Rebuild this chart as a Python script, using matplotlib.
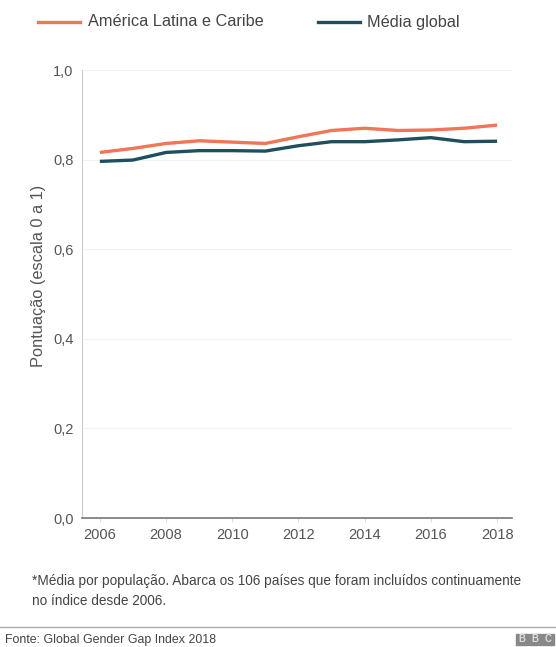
import matplotlib; matplotlib.use("Agg"); import matplotlib.pyplot as plt
from matplotlib.patches import Rectangle

plt.rcParams['font.family'] = ['Liberation Sans', 'DejaVu Sans']

years = list(range(2006, 2019))
latam = [0.816, 0.825, 0.836, 0.842, 0.839, 0.836, 0.851, 0.865, 0.870, 0.865, 0.866, 0.870, 0.877]
globl = [0.796, 0.799, 0.816, 0.820, 0.820, 0.819, 0.831, 0.840, 0.840, 0.844, 0.849, 0.840, 0.841]
yticks = [0.0, 0.2, 0.4, 0.6, 0.8, 1.0]
xticks = [2006, 2008, 2010, 2012, 2014, 2016, 2018]

ORANGE = "#f0765a"; TEAL = "#1f4f5e"; GREY = "#555555"

fig = plt.figure(figsize=(5.56, 6.47), dpi=100)
ax = fig.add_axes([82/556, 1-518/647, 430/556, 448/647])
ax.plot(years, latam, color=ORANGE, lw=2.4, solid_capstyle="butt")
ax.plot(years, globl, color=TEAL, lw=2.4, solid_capstyle="butt")
ax.set_xlim(2005.46, 2018.45); ax.set_ylim(0, 1.0)
ax.set_yticks(yticks); ax.set_yticklabels([f"{v:.1f}".replace(".", ",") for v in yticks])
ax.set_xticks(xticks)
ax.grid(axis="y", color="#f2f2f2", lw=0.8); ax.set_axisbelow(True)
for s in ["top", "right"]: ax.spines[s].set_visible(False)
ax.spines["left"].set_color("#cccccc"); ax.spines["bottom"].set_color("#777777")
ax.spines["bottom"].set_linewidth(1.2)
ax.tick_params(axis="y", length=0, pad=6, labelsize=10.5, labelcolor=GREY)
ax.tick_params(axis="x", length=3, color="#dddddd", pad=4, labelsize=10.5, labelcolor=GREY)
fig.text(39/556, 1-276/647, "Pontuação (escala 0 a 1)", fontsize=11.8, color=GREY,
         rotation=90, ha="center", va="center")

# legend drawn in figure coords
fig.add_artist(plt.Line2D([38/556, 80/556], [1-22/647]*2, color=ORANGE, lw=2.4))
fig.text(88/556, 1-22/647, "América Latina e Caribe", fontsize=11.7, color="#444444", va="center")
fig.add_artist(plt.Line2D([318/556, 360/556], [1-22/647]*2, color=TEAL, lw=2.4))
fig.text(367/556, 1-22/647, "Média global", fontsize=11.7, color="#444444", va="center")

fig.text(32/556, 1-591/647, "*Média por população. Abarca os 106 países que foram incluídos continuamente\nno índice desde 2006.",
         fontsize=9.8, color="#444444", va="center", linespacing=1.55)
fig.add_artist(plt.Line2D([0, 1], [1-627/647]*2, color="#aaaaaa", lw=1))
fig.text(5/556, 1-640/647, "Fonte: Global Gender Gap Index 2018", fontsize=8.9, color="#444444", va="center")
for i, ch in enumerate("BBC"):
    x0 = (516 + i*13)/556
    fig.add_artist(Rectangle((x0, 1-645/647), 12/556, 11/647, transform=fig.transFigure, color="#888888"))
    fig.text(x0 + 6/556, 1-639.5/647, ch, fontsize=7, color="#dddddd", ha="center", va="center", weight="bold")

fig.savefig("out.png", dpi=100)
